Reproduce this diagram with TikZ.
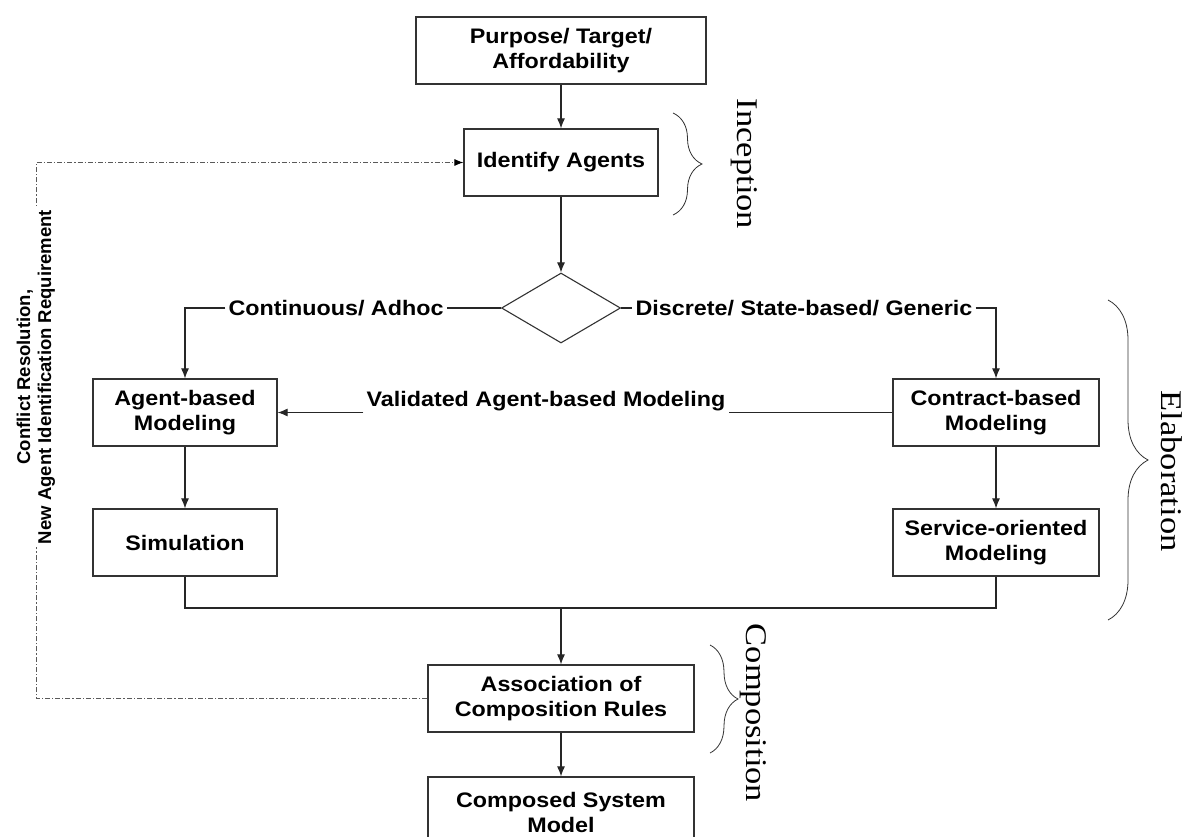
\documentclass[tikz,border=0pt]{standalone}
\usepackage{fontspec}
\setmainfont{Liberation Serif}
\newfontfamily\boxfont[FakeStretch=1.11]{Liberation Sans}
\newfontfamily\notefont{Liberation Sans}
\newfontfamily\phasefont[FakeStretch=1.15]{Liberation Serif}
\usetikzlibrary{arrows.meta,shapes.geometric,decorations.pathreplacing}

\begin{document}
\begin{tikzpicture}[x=1pt,y=-1pt,
  box/.style={draw=black!80, line width=1.2pt, rectangle, inner sep=0pt, align=center,
    font=\boxfont\bfseries\fontsize{21}{25}\selectfont},
  lbl/.style={inner sep=0pt, inner xsep=3pt, font=\boxfont\bfseries\fontsize{21}{25}\selectfont},
  flow/.style={draw=black!85, line width=1.1pt, -{Latex[length=10pt,width=8pt]}},
  link/.style={draw=black!85, line width=1.1pt},
  feedback/.style={draw=black!65, line width=0.9pt, dash pattern=on 5pt off 2pt on 1.2pt off 2pt},
  fblabel/.style={rotate=90, fill=white, inner sep=3pt, align=center,
    font=\notefont\bfseries\fontsize{18.5}{21}\selectfont},
  phase/.style={font=\phasefont\fontsize{30}{30}\selectfont, rotate=-90, inner sep=0pt},
  bracket/.style={draw=black!80, line width=0.8pt, decorate, decoration={brace, amplitude=#1}}
]
\useasboundingbox (0,0) rectangle (1190,837);
\clip (0,0) rectangle (1190,837);

% process boxes
\node[box, minimum width=290pt, minimum height=67pt] (purpose) at (561,50.5) {Purpose/ Target/\\Affordability};
\node[box, minimum width=194pt, minimum height=67pt] (identify) at (561,162.5) {Identify Agents};
\node[draw=black!80, line width=1.1pt, diamond, inner sep=0pt, minimum width=119pt, minimum height=70pt] (decide) at (561,308) {};
\node[box, minimum width=184pt, minimum height=67pt] (abm) at (185,412.5) {Agent-based\\Modeling};
\node[box, minimum width=206pt, minimum height=67pt] (cbm) at (996,412.5) {Contract-based\\Modeling};
\node[box, minimum width=184pt, minimum height=67pt] (sim) at (185,542.5) {Simulation};
\node[box, minimum width=206pt, minimum height=67pt] (som) at (996,542.5) {Service-oriented\\Modeling};
\node[box, minimum width=266pt, minimum height=67pt] (assoc) at (561,698.5) {Association of\\Composition Rules};
\node[box, minimum width=266pt, minimum height=70pt] (composed) at (561,812) {Composed System\\Model};

% main flow
\draw[flow] (purpose) -- (identify);
\draw[flow] (identify) -- (decide);

\node[lbl] (cont) at (336,308) {Continuous/ Adhoc};
\draw[link] (decide.west) -- (cont.east);
\draw[flow] (cont.west) -| (abm.north);

\node[lbl] (disc) at (804,308) {Discrete/ State-based/ Generic};
\draw[link] (decide.east) -- (disc.west);
\draw[flow] (disc.east) -| (cbm.north);

\node[lbl] (valid) at (546,401) {Validated Agent-based Modeling};
\draw[link] (cbm.west) -- (valid.east |- cbm.west);
\draw[flow] (valid.west |- abm.east) -- (abm.east);

\draw[flow] (abm) -- (sim);
\draw[flow] (cbm) -- (som);

\coordinate (join) at (561,608);
\draw[link] (sim.south) |- (join) -| (som.south);
\draw[flow] (join) -- (assoc);
\draw[flow] (assoc) -- (composed);

% feedback loop
\coordinate (fb) at (36,377);
\draw[feedback, -{Latex[length=9pt,width=7pt,black]}] (assoc.west) -| (fb) |- (identify.west);
\node[fblabel] (fbtext) at (fb) {Conflict Resolution,\\New Agent Identification Requirement};

% phases
\draw[bracket=29pt] (673,113) -- (673,215);
\node[phase] (inception) at (744,164) {Inception};
\draw[bracket=40pt] (1108,300) -- (1108,620);
\node[phase] (elaboration) at (1172,471) {Elaboration};
\draw[bracket=28pt] (710,645) -- (710,753);
\node[phase] (composition) at (753,713) {Composition};
\end{tikzpicture}
\end{document}
